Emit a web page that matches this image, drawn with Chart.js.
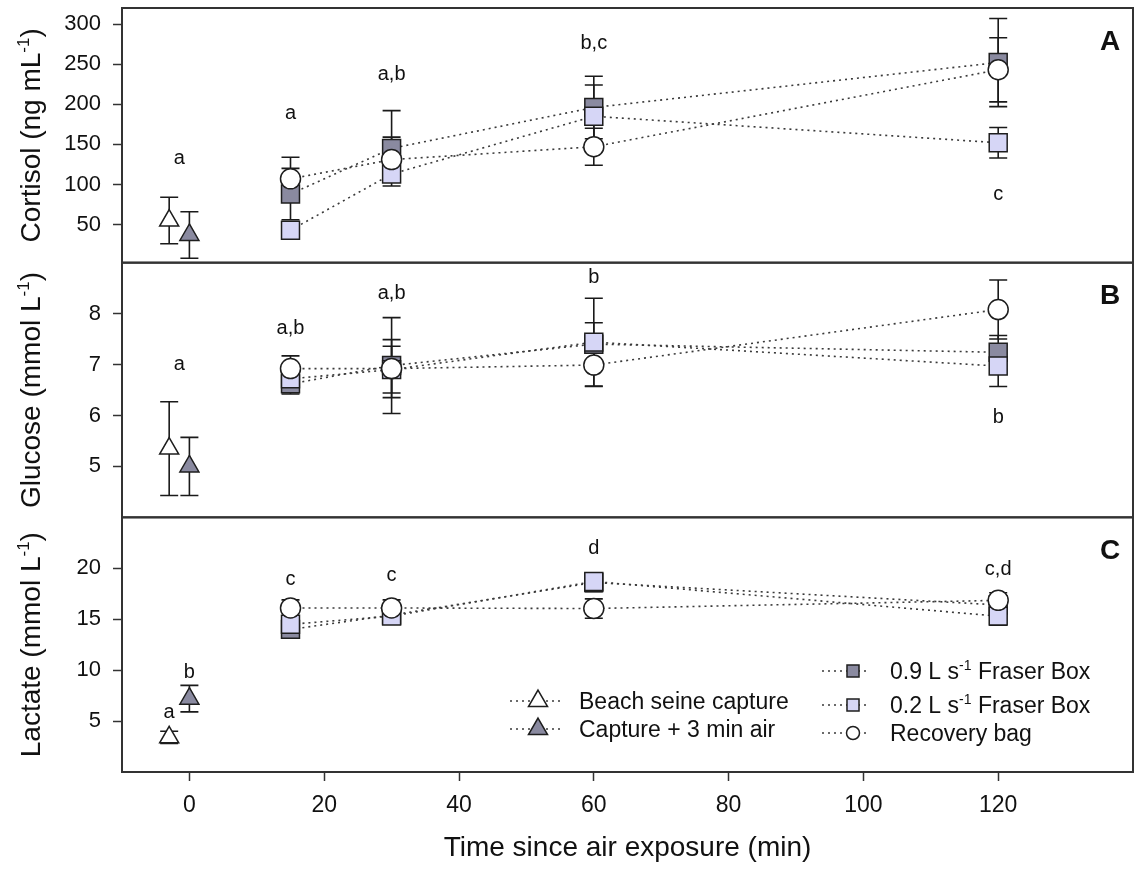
<!DOCTYPE html>
<html>
<head>
<meta charset="utf-8">
<script src="https://cdn.jsdelivr.net/npm/chart.js@4.4.1/dist/chart.umd.min.js"></script>
<style>
  html, body { margin: 0; padding: 0; background: #fff; }
</style>
</head>
<body>
<canvas id="myChart" width="1136" height="876"></canvas>
<script>
// x positions (min since air exposure)
var treatTimes = [15, 30, 60, 120];
var seineTime = [-3];
var airTime = [0];
var xTicks = [0, 20, 40, 60, 80, 100, 120];

// A - cortisol (ng/mL), mean and error
var cortSeine = [55], cortSeineErr = [29];
var cortAir = [37], cortAirErr = [29];
var cortFast = [88, 145, 196, 252], cortFastErr = [32, 47, 39, 55];
var cortSlow = [43, 113, 185, 152], cortSlowErr = [8, 10, 39, 19];
var cortBag = [107, 131, 147, 243], cortBagErr = [27, 28, 23, 40];
var cortTicks = [50, 100, 150, 200, 250, 300];
var cortLetters = ["a", "a", "a,b", "b,c", "c"];
var cortLetterX = [-1.5, 15, 30, 60, 120];
var cortLetterY = [133, 188, 237, 276, 87];

// B - glucose (mmol/L)
var glucSeine = [5.35], glucSeineErr = [0.92];
var glucAir = [5.0], glucAirErr = [0.57];
var glucFast = [6.62, 6.98, 7.40, 7.24], glucFastErr = [0.2, 0.94, 0.42, 0.33];
var glucSlow = [6.72, 6.90, 7.44, 6.97], glucSlowErr = [0.2, 0.46, 0.86, 0.4];
var glucBag = [6.92, 6.92, 6.99, 8.08], glucBagErr = [0.25, 0.57, 0.42, 0.58];
var glucTicks = [5, 6, 7, 8];
var glucLetters = ["a", "a,b", "a,b", "b", "b"];
var glucLetterX = [-1.5, 15, 30, 60, 120];
var glucLetterY = [7.0, 7.7, 8.39, 8.71, 5.97];

// C - lactate (mmol/L)
var lactSeine = [3.4], lactSeineErr = [0.6];
var lactAir = [7.2], lactAirErr = [1.3];
var lactFast = [14.0, 15.4, 18.6, 16.4], lactFastErr = [0.5, 0.5, 0.9, 0.8];
var lactSlow = [14.5, 15.3, 18.7, 15.3], lactSlowErr = [0.6, 0.5, 0.8, 0.9];
var lactBag = [16.1, 16.1, 16.05, 16.85], lactBagErr = [0.8, 0.8, 0.95, 0.75];
var lactTicks = [5, 10, 15, 20];
var lactLetters = ["a", "b", "c", "c", "d", "c,d"];
var lactLetterX = [-3, 0, 15, 30, 60, 120];
var lactLetterY = [5.85, 9.8, 18.9, 19.25, 21.9, 19.85];

var yTitles = [
  ["Cortisol (ng mL", "-1", ")"],
  ["Glucose (mmol L", "-1", ")"],
  ["Lactate (mmol L", "-1", ")"]
];
var panelNames = ["A", "B", "C"];
var legendLabels = [
  ["Beach seine capture"],
  ["Capture + 3 min air"],
  ["0.9 L s", "-1", " Fraser Box"],
  ["0.2 L s", "-1", " Fraser Box"],
  ["Recovery bag"]
];

var FONT = "'Liberation Sans', Arial, sans-serif";
Chart.defaults.font.family = FONT;
Chart.defaults.color = "#111";

var styles = {
  seine: { shape: "triangle", radius: 11, fill: "#ffffff", legendRadius: 11 },
  air: { shape: "triangle", radius: 11, fill: "#8a8aa0", legendRadius: 11 },
  fast: { shape: "rect", radius: 12.7, fill: "#8a8aa0", legendRadius: 8.5 },
  slow: { shape: "rect", radius: 12.7, fill: "#d6d6f6", legendRadius: 8.5 },
  bag: { shape: "circle", radius: 10, fill: "#ffffff", legendRadius: 6.5 }
};

function series(label, xs, ys, errs, axis, style, order) {
  return {
    label: label,
    data: xs.map(function (x, i) { return { x: x, y: ys[i] }; }),
    errors: errs,
    yAxisID: axis,
    showLine: xs.length > 1,
    borderColor: "#3a3a3a",
    borderWidth: 1.6,
    borderDash: [2, 4],
    pointStyle: style.shape,
    pointRadius: style.radius,
    pointHoverRadius: style.radius,
    pointBackgroundColor: style.fill,
    pointBorderColor: "#1e1e1e",
    pointBorderWidth: 1.5,
    order: order,
    legendStyle: style
  };
}

var datasets = [
  series("Beach seine capture", seineTime, cortSeine, cortSeineErr, "yA", styles.seine, 4),
  series("Capture + 3 min air", airTime, cortAir, cortAirErr, "yA", styles.air, 4),
  series("0.9 L s-1 Fraser Box", treatTimes, cortFast, cortFastErr, "yA", styles.fast, 3),
  series("0.2 L s-1 Fraser Box", treatTimes, cortSlow, cortSlowErr, "yA", styles.slow, 2),
  series("Recovery bag", treatTimes, cortBag, cortBagErr, "yA", styles.bag, 1),

  series("Beach seine capture", seineTime, glucSeine, glucSeineErr, "yB", styles.seine, 4),
  series("Capture + 3 min air", airTime, glucAir, glucAirErr, "yB", styles.air, 4),
  series("0.9 L s-1 Fraser Box", treatTimes, glucFast, glucFastErr, "yB", styles.fast, 3),
  series("0.2 L s-1 Fraser Box", treatTimes, glucSlow, glucSlowErr, "yB", styles.slow, 2),
  series("Recovery bag", treatTimes, glucBag, glucBagErr, "yB", styles.bag, 1),

  series("Beach seine capture", seineTime, lactSeine, lactSeineErr, "yC", styles.seine, 4),
  series("Capture + 3 min air", airTime, lactAir, lactAirErr, "yC", styles.air, 4),
  series("0.9 L s-1 Fraser Box", treatTimes, lactFast, lactFastErr, "yC", styles.fast, 3),
  series("0.2 L s-1 Fraser Box", treatTimes, lactSlow, lactSlowErr, "yC", styles.slow, 2),
  series("Recovery bag", treatTimes, lactBag, lactBagErr, "yC", styles.bag, 1)
];

var letterSets = [
  { axis: "yA", text: cortLetters, x: cortLetterX, y: cortLetterY },
  { axis: "yB", text: glucLetters, x: glucLetterX, y: glucLetterY },
  { axis: "yC", text: lactLetters, x: lactLetterX, y: lactLetterY }
];

// text with superscript parts (odd indices are raised)
function drawRich(ctx, parts, x, y, size, align) {
  var widths = parts.map(function (p, i) {
    ctx.font = (i % 2 ? Math.round(size * 0.6) : size) + "px " + FONT;
    return ctx.measureText(p).width;
  });
  var total = widths.reduce(function (a, b) { return a + b; }, 0);
  var cx = align === "center" ? x - total / 2 : x;
  ctx.textAlign = "left";
  ctx.textBaseline = "alphabetic";
  parts.forEach(function (p, i) {
    ctx.font = (i % 2 ? Math.round(size * 0.6) : size) + "px " + FONT;
    ctx.fillText(p, cx, i % 2 ? y - size * 0.38 : y);
    cx += widths[i];
  });
}

function yAxis(min, max, ticks, weight) {
  return {
    type: "linear",
    position: "left",
    stack: "panels",
    stackWeight: 1,
    weight: weight,
    min: min,
    max: max,
    afterBuildTicks: function (s) { s.ticks = ticks.map(function (v) { return { value: v }; }); },
    afterFit: function (s) { s.width = 122; s.paddingTop = 0; s.paddingBottom = 0; },
    grid: { drawOnChartArea: false, tickLength: 9, tickColor: "#333", tickWidth: 1.5 },
    border: { display: false },
    ticks: { font: { size: 22 }, color: "#111", padding: 12, autoSkip: false }
  };
}

var panelPlugin = {
  id: "panels",
  beforeDatasetsDraw: function (chart) {
    var ctx = chart.ctx, area = chart.chartArea;
    ctx.save();
    // error bars
    ctx.strokeStyle = "#1a1a1a";
    ctx.lineWidth = 1.6;
    chart.data.datasets.forEach(function (ds, i) {
      var meta = chart.getDatasetMeta(i);
      var ys = chart.scales[ds.yAxisID];
      meta.data.forEach(function (pt, j) {
        var v = ds.data[j].y, e = ds.errors[j];
        var top = ys.getPixelForValue(v + e), bot = ys.getPixelForValue(v - e);
        ctx.beginPath();
        ctx.moveTo(pt.x, top); ctx.lineTo(pt.x, bot);
        ctx.moveTo(pt.x - 9, top); ctx.lineTo(pt.x + 9, top);
        ctx.moveTo(pt.x - 9, bot); ctx.lineTo(pt.x + 9, bot);
        ctx.stroke();
      });
    });
    // panel frames
    ctx.strokeStyle = "#333";
    ctx.lineWidth = 2;
    ["yA", "yB", "yC"].forEach(function (id) {
      var s = chart.scales[id];
      ctx.strokeRect(area.left, s.top, area.right - area.left, s.bottom - s.top);
    });
    ctx.restore();
  },
  afterDatasetsDraw: function (chart) {
    var ctx = chart.ctx, area = chart.chartArea, xs = chart.scales.x;
    ctx.save();
    ctx.fillStyle = "#111";
    // significance letters
    ctx.font = "20px " + FONT;
    ctx.textAlign = "center";
    ctx.textBaseline = "middle";
    letterSets.forEach(function (set) {
      var ys = chart.scales[set.axis];
      set.text.forEach(function (t, i) {
        ctx.fillText(t, xs.getPixelForValue(set.x[i]), ys.getPixelForValue(set.y[i]));
      });
    });
    // panel names
    ctx.font = "bold 28px " + FONT;
    ["yA", "yB", "yC"].forEach(function (id, i) {
      var s = chart.scales[id];
      ctx.fillText(panelNames[i], area.right - 23, s.top + 34);
    });
    // y titles
    ["yA", "yB", "yC"].forEach(function (id, i) {
      var s = chart.scales[id];
      ctx.save();
      ctx.translate(30, (s.top + s.bottom) / 2);
      ctx.rotate(-Math.PI / 2);
      drawRich(ctx, yTitles[i], 0, 10, 28, "center");
      ctx.restore();
    });
    // legend, two columns inside panel C
    var rows = [
      { ds: 10, x0: 510, sx: 538, x1: 562, tx: 579, y: 701 },
      { ds: 11, x0: 510, sx: 538, x1: 562, tx: 579, y: 729 },
      { ds: 12, x0: 822, sx: 853, x1: 870, tx: 890, y: 671 },
      { ds: 13, x0: 822, sx: 853, x1: 870, tx: 890, y: 705 },
      { ds: 14, x0: 822, sx: 853, x1: 870, tx: 890, y: 733 }
    ];
    rows.forEach(function (r, i) {
      var ds = chart.data.datasets[r.ds];
      ctx.save();
      ctx.strokeStyle = "#3a3a3a";
      ctx.lineWidth = 1.6;
      ctx.setLineDash([2, 4]);
      ctx.beginPath();
      ctx.moveTo(r.x0, r.y); ctx.lineTo(r.x1, r.y);
      ctx.stroke();
      ctx.setLineDash([]);
      ctx.fillStyle = ds.pointBackgroundColor;
      ctx.strokeStyle = ds.pointBorderColor;
      ctx.lineWidth = 1.5;
      Chart.helpers.drawPoint(ctx, { pointStyle: ds.pointStyle, radius: ds.legendStyle.legendRadius, rotation: 0, borderWidth: 1.5 }, r.sx, r.y);
      ctx.restore();
      ctx.fillStyle = "#111";
      drawRich(ctx, legendLabels[i], r.tx, r.y + 8, 23, "left");
    });
    ctx.restore();
  }
};

var ctx = document.getElementById("myChart").getContext("2d");
var chart = new Chart(ctx, {
  type: "scatter",
  data: { datasets: datasets },
  options: {
    responsive: false,
    animation: false,
    devicePixelRatio: 1,
    layout: { autoPadding: false, padding: { top: 8, right: 3, left: 0, bottom: 0 } },
    plugins: { legend: { display: false }, tooltip: { enabled: false } },
    scales: {
      x: {
        type: "linear",
        position: "bottom",
        min: -10,
        max: 140,
        afterBuildTicks: function (s) { s.ticks = xTicks.map(function (v) { return { value: v }; }); },
        afterFit: function (s) { s.height = 104; s.paddingLeft = 0; s.paddingRight = 0; },
        grid: { drawOnChartArea: false, tickLength: 9, tickColor: "#333", tickWidth: 1.5 },
        border: { display: false },
        ticks: { font: { size: 23 }, color: "#111", padding: 11, maxRotation: 0, autoSkip: false },
        title: { display: true, text: "Time since air exposure (min)", font: { size: 28 }, color: "#111", padding: { top: 0, bottom: 11 } }
      },
      yA: yAxis(2.5, 320, cortTicks, 3),
      yB: yAxis(4, 9, glucTicks, 2),
      yC: yAxis(0, 25, lactTicks, 1)
    }
  },
  plugins: [panelPlugin]
});
</script>
</body>
</html>
